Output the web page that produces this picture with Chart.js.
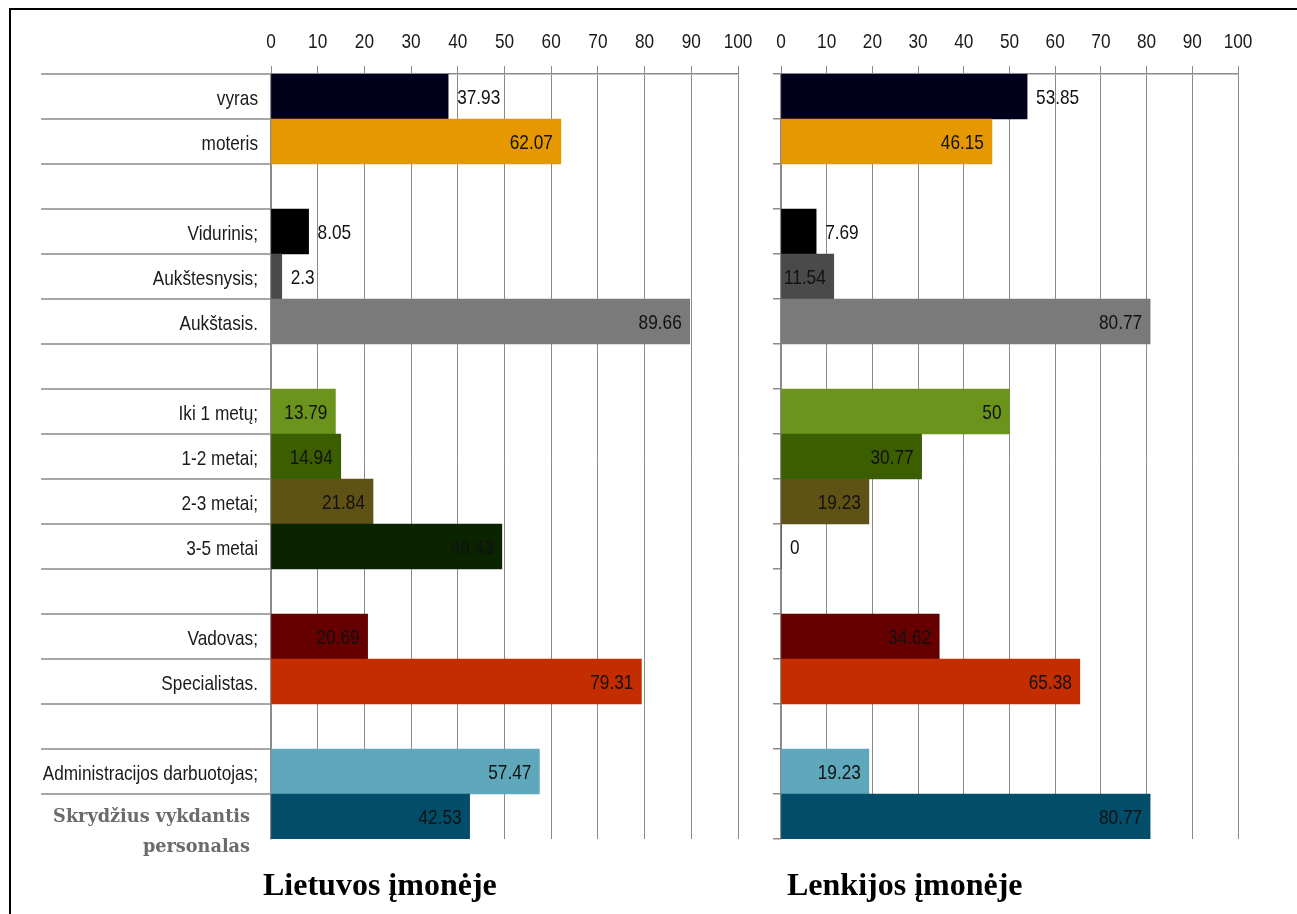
<!DOCTYPE html>
<html>
<head>
<meta charset="utf-8">
<script src="https://cdn.jsdelivr.net/npm/chart.js@4.4.1/dist/chart.umd.min.js"></script>
<style>
  body { margin: 0; background: #fff; }
  #page { position: relative; width: 1297px; height: 914px; overflow: hidden; }
  #frame { position: absolute; left: 9px; top: 8px; right: -10px; bottom: -10px;
           border-top: 2px solid #000; border-left: 2px solid #000; }
  canvas { position: absolute; left: 0; top: 0; }
  .title { position: absolute; top: 868px; font: bold 32px 'Liberation Serif', serif;
           line-height: 32px; color: #000; white-space: nowrap; }
</style>
</head>
<body>
<div id="page">
  <div id="frame"></div>
  <canvas id="chartLT" width="1297" height="914"></canvas>
  <canvas id="chartPL" width="1297" height="914"></canvas>
  <div class="title" style="left:263px">Lietuvos įmonėje</div>
  <div class="title" style="left:787px">Lenkijos įmonėje</div>
</div>
<script>
// categories (empty ones are the gaps between groups)
const categories = ['vyras', 'moteris', '', 'Vidurinis;', 'Aukštesnysis;', 'Aukštasis.', '',
  'Iki 1 metų;', '1-2 metai;', '2-3 metai;', '3-5 metai', '', 'Vadovas;', 'Specialistas.', '',
  'Administracijos darbuotojas;', ['Skrydžius vykdantis', 'personalas']];

const lietuvaValues = [37.93, 62.07, null, 8.05, 2.3, 89.66, null, 13.79, 14.94, 21.84, 49.43,
  null, 20.69, 79.31, null, 57.47, 42.53];
const lenkijaValues = [53.85, 46.15, null, 7.69, 11.54, 80.77, null, 50, 30.77, 19.23, 0,
  null, 34.62, 65.38, null, 19.23, 80.77];

const xTicks = [0, 10, 20, 30, 40, 50, 60, 70, 80, 90, 100];

const barColors = ['#00001c', '#e59800', null, '#000000', '#4a4a4a', '#7a7a7a', null,
  '#6a941c', '#3b5f00', '#5f5214', '#0b2400', null, '#640000', '#c42d00', null,
  '#5fa8bb', '#024d6a'];

const textFont = "21px 'Liberation Sans', Arial, sans-serif";
const textSquash = 0.82;   // narrow look of the original labels
const gridGray = '#8a8a8a';
const lastIdx = categories.length - 1;

// draws horizontally squashed text anchored at (x, y)
function narrowText(ctx, text, x, y, align, font, squash) {
  ctx.save();
  ctx.translate(x, y);
  ctx.scale(squash, 1);
  ctx.font = font;
  ctx.textAlign = align;
  ctx.textBaseline = 'alphabetic';
  ctx.fillText(text, 0, 0);
  ctx.restore();
}

// tick labels, row lines and value labels
const labelsPlugin = {
  id: 'labelsPlugin',
  afterDatasetsDraw(chart, args, opts) {
    const ctx = chart.ctx;
    const xs = chart.scales.x;
    const ys = chart.scales.y;
    const area = chart.chartArea;
    ctx.save();
    ctx.fillStyle = '#1a1a1a';

    // x tick labels on top
    xs.ticks.forEach((t, i) => {
      narrowText(ctx, String(t.value), xs.getPixelForTick(i), 48, 'center', textFont, textSquash);
    });

    // value labels
    const meta = chart.getDatasetMeta(0);
    const data = chart.data.datasets[0].data;
    ctx.fillStyle = '#111';
    meta.data.forEach((bar, i) => {
      const v = data[i];
      if (v === null) return;
      if (opts.outside.includes(i)) {
        narrowText(ctx, String(v), bar.x + 9, bar.y + 7, 'left', textFont, textSquash);
      } else {
        narrowText(ctx, String(v), bar.x - 8, bar.y + 7, 'right', textFont, textSquash);
      }
    });

    if (opts.categoryLabels) {
      // lines between rows in the label area
      const half = Math.abs(ys.getPixelForValue(1) - ys.getPixelForValue(0)) / 2;
      ctx.strokeStyle = gridGray;
      ctx.lineWidth = 1.5;
      for (let i = 0; i < categories.length; i++) {
        const py = Math.round(ys.getPixelForValue(i) - half);
        ctx.beginPath();
        ctx.moveTo(41, py);
        ctx.lineTo(area.left, py);
        ctx.stroke();
      }
      // category labels
      ctx.fillStyle = '#1a1a1a';
      categories.forEach((c, i) => {
        if (i === lastIdx || c === '') return;
        narrowText(ctx, c, area.left - 13, ys.getPixelForValue(i) + 8, 'right', textFont, textSquash);
      });
      const cy = ys.getPixelForValue(lastIdx);
      ctx.fillStyle = '#6b6b6b';
      const serif = "bold 19px 'DejaVu Serif', serif";
      narrowText(ctx, categories[lastIdx][0], area.left - 21, cy + 5, 'right', serif, 0.93);
      narrowText(ctx, categories[lastIdx][1], area.left - 21, cy + 35, 'right', serif, 0.93);
    }
    ctx.restore();
  }
};

function makeChart(id, values, cfg) {
  return new Chart(document.getElementById(id), {
    type: 'bar',
    data: {
      labels: categories,
      datasets: [{
        data: values,
        backgroundColor: barColors,
        barPercentage: 1,
        categoryPercentage: 1,
        borderWidth: 0
      }]
    },
    options: {
      indexAxis: 'y',
      responsive: false,
      animation: false,
      layout: { padding: { left: 0, right: cfg.padRight, top: 0, bottom: 75 } },
      plugins: {
        legend: { display: false },
        tooltip: { enabled: false },
        labelsPlugin: { outside: cfg.outside, categoryLabels: cfg.labels }
      },
      scales: {
        x: {
          position: 'top',
          min: 0,
          max: 100,
          afterBuildTicks: (s) => { s.ticks = xTicks.map(v => ({ value: v })); },
          afterFit: (s) => { s.height = 74; },
          ticks: { display: false },
          grid: { color: gridGray, lineWidth: 1, tickLength: 8 },
          border: { color: gridGray, width: 1.5 }
        },
        y: {
          afterFit: (s) => { s.width = cfg.axisLeft; },
          ticks: { display: false },
          grid: {
            display: !cfg.labels,
            drawOnChartArea: false,
            color: gridGray,
            lineWidth: 1.5,
            tickLength: 8
          },
          border: { color: gridGray, width: 1.5 }
        }
      }
    },
    plugins: [labelsPlugin]
  });
}

makeChart('chartLT', lietuvaValues, { axisLeft: 271, padRight: 559, labels: true, outside: [0, 3, 4] });
makeChart('chartPL', lenkijaValues, { axisLeft: 781, padRight: 59, labels: false, outside: [0, 3, 10] });
</script>
</body>
</html>
